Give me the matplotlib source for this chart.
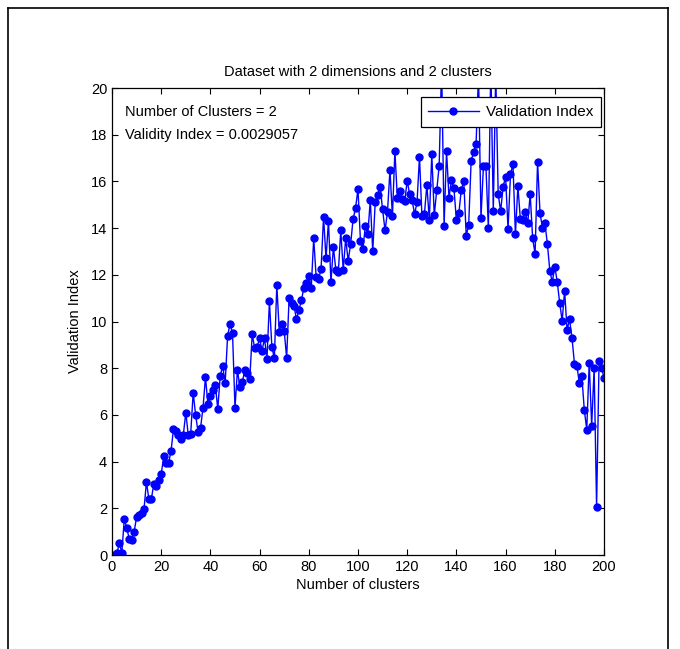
import numpy as np
import matplotlib
matplotlib.use('Agg')
import matplotlib.pyplot as plt
from matplotlib.lines import Line2D

plt.rcParams['font.family'] = ['Liberation Sans', 'DejaVu Sans']

# validation index for each number of clusters
clusters = np.arange(1, 201)
vindex = [
    0.02, 0.08, 0.5, 0.1, 1.55, 1.15, 0.7, 0.65, 1.0, 1.62,
    1.72, 1.82, 1.95, 3.12, 2.4, 2.4, 3.05, 2.95, 3.2, 3.45,
    4.22, 3.95, 3.95, 4.45, 5.4, 5.3, 5.12, 4.98, 5.15, 6.1,
    5.15, 5.2, 6.95, 6.0, 5.25, 5.45, 6.3, 7.62, 6.45, 6.8,
    7.05, 7.3, 6.24, 7.68, 8.1, 7.35, 9.4, 9.9, 9.5, 6.3,
    7.92, 7.18, 7.42, 7.92, 7.78, 7.52, 9.46, 8.85, 8.9, 9.28,
    8.75, 9.28, 8.4, 10.86, 8.9, 8.43, 11.56, 9.57, 9.9, 9.6,
    8.45, 11.0, 10.8, 10.65, 10.1, 10.5, 10.9, 11.45, 11.65, 11.96,
    11.45, 13.56, 11.9, 11.8, 12.26, 14.49, 12.7, 14.3, 11.68, 13.2,
    12.2, 12.1, 13.9, 12.2, 13.56, 12.6, 13.3, 14.38, 14.85, 15.67,
    13.46, 13.1, 14.1, 13.75, 15.2, 13.0, 15.1, 15.4, 15.77, 14.8,
    13.9, 14.7, 16.49, 14.5, 17.3, 15.3, 15.6, 15.25, 15.15, 16.03,
    15.45, 15.2, 14.6, 15.1, 17.06, 14.5, 14.6, 15.85, 14.35, 17.17,
    14.55, 15.62, 16.66, 21.0, 14.1, 17.3, 15.3, 16.06, 15.7, 14.35,
    14.63, 15.65, 16.03, 13.68, 14.13, 16.89, 17.25, 17.6, 20.6, 14.43,
    16.67, 16.67, 14.0, 21.0, 14.73, 20.6, 15.45, 14.73, 15.77, 16.2,
    13.96, 16.3, 16.75, 13.73, 15.8, 14.4, 14.35, 14.7, 14.2, 15.45,
    13.56, 12.9, 16.84, 14.65, 14.0, 14.2, 13.32, 12.15, 11.7, 12.35,
    11.7, 10.8, 10.03, 11.32, 9.63, 10.1, 9.29, 8.2, 8.1, 7.35,
    7.65, 6.22, 5.37, 8.24, 5.53, 8.0, 2.07, 8.3, 8.03, 7.6,
]

fig = plt.figure(figsize=(6.8, 6.49), dpi=100)
ax = fig.add_axes([0.1647, 0.1448, 0.7235, 0.7196])

ax.plot(clusters, vindex, '-', color='blue', lw=1.0, marker='o',
        markersize=5, markerfacecolor='blue', markeredgecolor='blue',
        label='Validation Index')

ax.set_xlim(0, 200)
ax.set_ylim(0, 20)
ax.set_xticks(np.arange(0, 201, 20))
ax.set_yticks(np.arange(0, 21, 2))
ax.tick_params(direction='in', top=True, right=True, length=4,
               labelsize=10.5, width=0.8, colors='black')
for s in ax.spines.values():
    s.set_linewidth(0.9)

ax.set_title('Dataset with 2 dimensions and 2 clusters', fontsize=10.5, pad=9)
ax.set_xlabel('Number of clusters', fontsize=10.5, labelpad=3)
ax.set_ylabel('Validation Index', fontsize=10.5, labelpad=6)

ax.text(5.2, 18.97, 'Number of Clusters = 2', fontsize=10.5, va='center', ha='left')
ax.text(5.2, 17.99, 'Validity Index = 0.0029057', fontsize=10.5, va='center', ha='left')

leg = ax.legend(loc='upper right', bbox_to_anchor=(0.993, 0.98), fancybox=False,
                framealpha=1, edgecolor='black', fontsize=11,
                handlelength=3.3, borderpad=0.5, handletextpad=0.45,
                borderaxespad=0)
leg.get_frame().set_linewidth(0.9)

# outer frame around the figure
fx0, fx1, fy1 = 8 / 680, 668 / 680, 1 - 8 / 649
fig.add_artist(Line2D([fx0, fx0], [0, fy1], color='black', lw=1.2, transform=fig.transFigure))
fig.add_artist(Line2D([fx0, fx1], [fy1, fy1], color='black', lw=1.2, transform=fig.transFigure))
fig.add_artist(Line2D([fx1, fx1], [0, fy1], color='black', lw=1.2, transform=fig.transFigure))

fig.savefig('out.png', dpi=100)
